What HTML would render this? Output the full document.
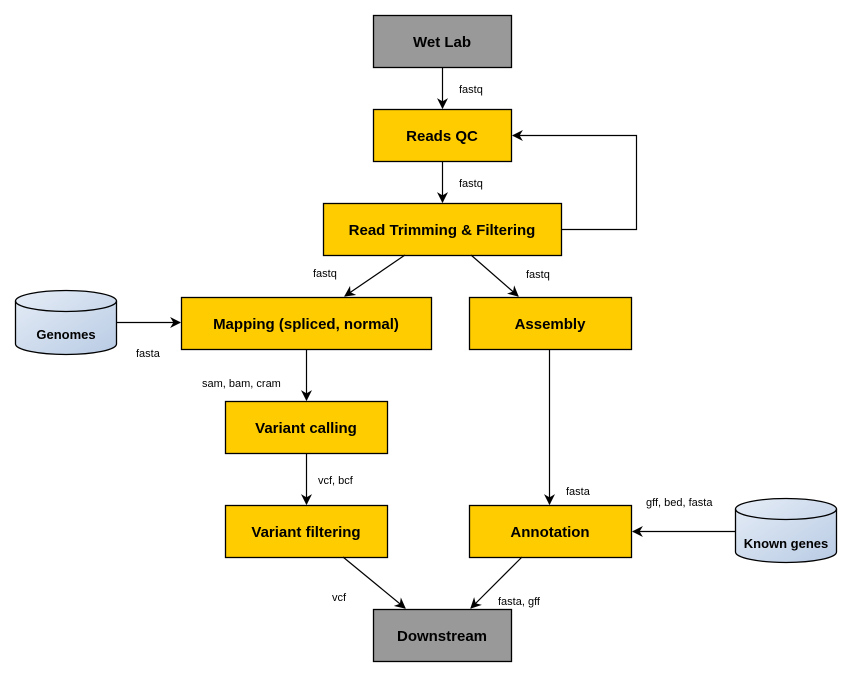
<!DOCTYPE html>
<html><head><style>body{margin:0;background:#fff}svg{display:block}</style></head><body>
<svg width="851" height="676" viewBox="0 0 851 676" xmlns="http://www.w3.org/2000/svg" font-family="Liberation Sans, Arial, sans-serif">
<defs>
<marker id="a" viewBox="0 0 10 10" refX="9" refY="5" markerWidth="11" markerHeight="11" orient="auto" markerUnits="userSpaceOnUse"><path d="M0,0 L10,5 L0,10 L3,5 z" fill="#000"/></marker>
<linearGradient id="g" x1="0" y1="0" x2="1" y2="1"><stop offset="0" stop-color="#e6edf7"/><stop offset="1" stop-color="#b8cbe4"/></linearGradient>
</defs>
<g stroke="#000" stroke-width="1.3">
<rect x="373.5" y="15.5" width="138" height="52" fill="#999"/>
<rect x="373.5" y="109.5" width="138" height="52" fill="#ffcc00"/>
<rect x="323.5" y="203.5" width="238" height="52" fill="#ffcc00"/>
<rect x="181.5" y="297.5" width="250" height="52" fill="#ffcc00"/>
<rect x="469.5" y="297.5" width="162" height="52" fill="#ffcc00"/>
<rect x="225.5" y="401.5" width="162" height="52" fill="#ffcc00"/>
<rect x="225.5" y="505.5" width="162" height="52" fill="#ffcc00"/>
<rect x="469.5" y="505.5" width="162" height="52" fill="#ffcc00"/>
<rect x="373.5" y="609.5" width="138" height="52" fill="#999"/>
<path d="M15.5,301 A50.5,10.5 0 0 1 116.5,301 L116.5,344 A50.5,10.5 0 0 1 15.5,344 Z" fill="url(#g)"/>
<path d="M15.5,301 A50.5,10.5 0 0 0 116.5,301" fill="none"/>
<path d="M735.5,509 A50.5,10.5 0 0 1 836.5,509 L836.5,552 A50.5,10.5 0 0 1 735.5,552 Z" fill="url(#g)"/>
<path d="M735.5,509 A50.5,10.5 0 0 0 836.5,509" fill="none"/>
</g>
<g stroke="#000" stroke-width="1.2" fill="none" marker-end="url(#a)">
<line x1="442.5" y1="67" x2="442.5" y2="108"/>
<line x1="442.5" y1="161" x2="442.5" y2="202"/>
<polyline points="561,229.5 636.5,229.5 636.5,135.5 513,135.5"/>
<line x1="405" y1="255" x2="345" y2="296"/>
<line x1="471" y1="255" x2="518" y2="296"/>
<line x1="117" y1="322.5" x2="180" y2="322.5"/>
<line x1="306.5" y1="349" x2="306.5" y2="400"/>
<line x1="306.5" y1="453" x2="306.5" y2="504"/>
<line x1="549.5" y1="349" x2="549.5" y2="504"/>
<line x1="735" y1="531.5" x2="633" y2="531.5"/>
<line x1="343" y1="557" x2="405" y2="608"/>
<line x1="522" y1="557" x2="471" y2="608"/>
</g>
<g font-weight="bold" font-size="15" text-anchor="middle" fill="#000">
<text x="442" y="47">Wet Lab</text>
<text x="442" y="141">Reads QC</text>
<text x="442" y="235">Read Trimming &amp; Filtering</text>
<text x="306" y="329">Mapping (spliced, normal)</text>
<text x="550" y="329">Assembly</text>
<text x="306" y="433">Variant calling</text>
<text x="306" y="537">Variant filtering</text>
<text x="550" y="537">Annotation</text>
<text x="442" y="641">Downstream</text>
<text x="66" y="339" font-size="13">Genomes</text>
<text x="786" y="548" font-size="13">Known genes</text>
</g>
<g font-size="11" fill="#000">
<text x="459" y="93">fastq</text>
<text x="459" y="187">fastq</text>
<text x="313" y="277">fastq</text>
<text x="526" y="278">fastq</text>
<text x="136" y="357">fasta</text>
<text x="202" y="387">sam, bam, cram</text>
<text x="318" y="484">vcf, bcf</text>
<text x="566" y="495">fasta</text>
<text x="646" y="506">gff, bed, fasta</text>
<text x="332" y="601">vcf</text>
<text x="498" y="605">fasta, gff</text>
</g>
</svg>
</body></html>
